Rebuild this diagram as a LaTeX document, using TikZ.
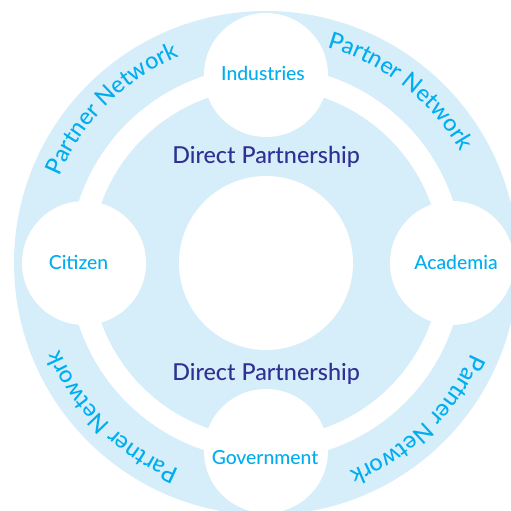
\documentclass[tikz,border=0pt]{standalone}
\usepackage{fontspec}
\setmainfont{Lato Medium}
\usetikzlibrary{decorations.text}
\definecolor{ringblue}{HTML}{D6EDFA}
\definecolor{partcyan}{HTML}{00AEEF}
\definecolor{partnavy}{HTML}{2E3192}
\tikzset{every picture/.style={line width=0.75pt}}
\tikzset{
  hub/.style={circle,fill=white,inner sep=0pt,minimum size=93pt},
  hublabel/.style={anchor=base,inner sep=0.75pt,text=partcyan,font=\fontsize{14.5}{17}\selectfont},
  directlabel/.style={anchor=base,inner sep=0.75pt,text=partnavy,font=\fontsize{17.5}{21}\selectfont},
  partnertext/.style={decorate,decoration={text along path,text align=center,
    text={|\fontsize{17.5}{20}\selectfont\color{partcyan}|Partner Network}}}
}

\begin{document}
\begin{tikzpicture}[x=0.75pt,y=0.75pt,yscale=-1,xscale=1]
\path[use as bounding box] (0,0) rectangle (511,511);
\clip (0,0) rectangle (511,511);
\coordinate (ctr) at (266,263);

%Shape: Circle [outer ring]
\fill[ringblue] (ctr) circle (252);
%Shape: Circle [white gap]
\fill[white] (ctr) circle (197);
%Shape: Circle [inner disc]
\fill[ringblue] (ctr) circle (175);

%Shape: Circles [core and hubs]
\node[hub,minimum size=130.5pt] (core) at (ctr) {};
\node[hub] (industries) at (266,75) {};
\node[hub] (citizen) at (84,263) {};
\node[hub] (academia) at (452,263) {};
\node[hub] (government) at (266,451) {};

% Text Node
\node[hublabel] (industrieslbl) at (263,80) {Industries};
% Text Node
\node[hublabel] (citizenlbl) at (78.5,269) {Citizen};
% Text Node
\node[hublabel] (academialbl) at (456,269) {Academia};
% Text Node
\node[hublabel] (governmentlbl) at (265,464) {Government};
% Text Node
\node[directlabel] (directtop) at (266,163) {Direct Partnership};
% Text Node
\node[directlabel] (directbottom) at (266,380) {Direct Partnership};

% Curved text on the outer ring
\begin{scope}[shift={(ctr)},yscale=-1]
\path[partnertext] (160:224) arc (160:110:224);
\path[partnertext] (77:224) arc (77:27:224);
\path[partnertext] (-21:224) arc (-21:-71:224);
\path[partnertext] (-110:224) arc (-110:-160:224);
\end{scope}

\end{tikzpicture}
\end{document}
